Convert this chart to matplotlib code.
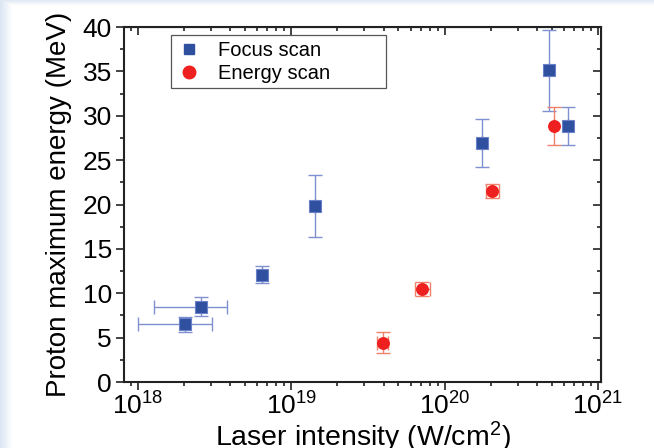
import numpy as np
import matplotlib.pyplot as plt
from matplotlib.ticker import MultipleLocator, LogLocator, NullFormatter
from matplotlib.lines import Line2D
from matplotlib.patches import Rectangle

plt.rcParams['font.family'] = ['Liberation Sans', 'DejaVu Sans']
plt.rcParams['mathtext.fontset'] = 'custom'
plt.rcParams['mathtext.rm'] = 'Liberation Sans'
plt.rcParams['mathtext.it'] = 'Liberation Sans:italic'
plt.rcParams['mathtext.bf'] = 'Liberation Sans:bold'

# focus scan (blue squares)
focus_x = [2.02e18, 2.57e18, 6.46e18, 1.44e19, 1.76e20, 4.79e20, 6.37e20]
focus_y = [6.5, 8.5, 12.1, 19.8, 26.9, 35.1, 28.85]
focus_yerr = [0.85, 1.05, 1.0, 3.5, 2.7, 4.55, 2.15]
focus_xlo = [1.0e18, 1.27e18, None, None, None, None, None]
focus_xhi = [3.06e18, 3.84e18, None, None, None, None, None]

# energy scan (red circles)
energy_x = [3.95e19, 7.14e19, 2.04e20, 5.18e20]
energy_y = [4.45, 10.45, 21.55, 28.85]
energy_yerr = [1.15, 0.8, 0.8, 2.15]
energy_xlo = [3.65e19, 6.45e19, 1.85e20, None]
energy_xhi = [4.3e19, 7.98e19, 2.25e20, None]

blue = '#2f4f9f'
blue_err = '#7f8fcf'
red = '#ee2020'
red_err = '#f0806a'

fig = plt.figure(figsize=(6.54, 4.48), dpi=100)

# light blue slide background strips
bg = fig.add_axes([0, 0, 1, 1], zorder=-10)
bg.axis('off')
col = np.array([0.86, 0.90, 0.95])
left = np.clip(1 - np.arange(654) / 12.0, 0, 1)
top = np.clip(1 - np.arange(448) / 6.0, 0, 1)
w = np.maximum(left[None, :], top[:, None])
grad = np.ones((448, 654, 3)) * (1 - w[..., None]) + col * w[..., None]
bg.imshow(grad, aspect='auto', extent=[0, 1, 0, 1])
bg.set_xlim(0, 1)
bg.set_ylim(0, 1)

ax = fig.add_axes([124 / 654, 1 - 382 / 448, 477 / 654, 355 / 448])
ax.set_facecolor('white')


def xerr_of(xs, lo, hi):
    e = np.zeros((2, len(xs)))
    for i, x in enumerate(xs):
        if lo[i] is not None:
            e[0, i] = x - lo[i]
            e[1, i] = hi[i] - x
    return e


fx = np.array(focus_x)
ex = np.array(energy_x)

ax.errorbar(fx, focus_y, yerr=focus_yerr, xerr=xerr_of(focus_x, focus_xlo, focus_xhi),
            fmt='none', ecolor=blue_err, elinewidth=1.0, capsize=5, capthick=1.0, zorder=2)
ax.plot(fx, focus_y, 's', color=blue, markersize=8.2, markeredgecolor='#6a80c8',
        markeredgewidth=0.8, zorder=3)

ax.errorbar(ex, energy_y, yerr=energy_yerr, xerr=xerr_of(energy_x, energy_xlo, energy_xhi),
            fmt='none', ecolor=red_err, elinewidth=1.0, capsize=5, capthick=1.0, zorder=2)
ax.plot(ex, energy_y, 'o', color=red, markersize=9.3, markeredgewidth=0, zorder=3)

ax.set_xscale('log')
ax.set_xlim(10 ** 17.91, 10 ** 21.02)
ax.set_ylim(0, 40)

ax.yaxis.set_major_locator(MultipleLocator(5))
ax.yaxis.set_minor_locator(MultipleLocator(2.5))
ax.xaxis.set_major_locator(LogLocator(base=10, numticks=10))
ax.xaxis.set_minor_locator(LogLocator(base=10, subs=np.arange(2, 10), numticks=20))
ax.xaxis.set_minor_formatter(NullFormatter())

for s in ax.spines.values():
    s.set_linewidth(1.5)
    s.set_color('#222222')

ax.tick_params(which='both', direction='out', width=1.2, colors='#222222',
               labelsize=19, labelcolor='black')
ax.tick_params(which='major', length=5.8)
ax.tick_params(which='minor', length=3.2)
ax.tick_params(axis='y', which='major', pad=3)
ax.tick_params(axis='x', which='major', pad=2)

# top and right ticks point inward
axt = ax.secondary_xaxis('top')
axt.tick_params(which='both', direction='in', width=1.2, colors='#222222')
axt.tick_params(which='major', length=5.8)
axt.tick_params(which='minor', length=3.2)
axt.set_xticklabels([])
axt.xaxis.set_minor_formatter(NullFormatter())
axr = ax.secondary_yaxis('right')
axr.yaxis.set_major_locator(MultipleLocator(5))
axr.yaxis.set_minor_locator(MultipleLocator(2.5))
axr.tick_params(which='both', direction='in', width=1.2, colors='#222222')
axr.tick_params(which='major', length=5.8)
axr.tick_params(which='minor', length=3.2)
axr.set_yticklabels([])

ax.set_xlabel('Laser intensity (W/cm$^2$)', fontsize=20.5)
ax.xaxis.set_label_coords(0.5, -(420 - 382) / 355)
ax.set_ylabel('Proton maximum energy (MeV)', fontsize=20)
ax.yaxis.set_label_coords(-(124 - 72) / 477, 0.5)

handles = [Line2D([], [], ls='none', marker='s', color=blue, markersize=7.7),
           Line2D([], [], ls='none', marker='o', color=red, markersize=9)]
leg = ax.legend(handles, ['Focus scan', 'Energy scan'], loc='upper left',
                bbox_to_anchor=((171 - 124) / 477, 1 - (33 - 27) / 355),
                fontsize=14.5, frameon=False,
                handletextpad=1.0, borderpad=0.4, labelspacing=0.2,
                handlelength=0.95, borderaxespad=0)
# wide legend box as in the original
ax.add_patch(Rectangle(((171 - 124) / 477, 1 - (88 - 27) / 355), (386 - 171) / 477,
                       (88 - 35) / 355, transform=ax.transAxes, fill=False,
                       edgecolor='#555555', linewidth=0.9, zorder=4))

fig.savefig('out.png', dpi=100)
